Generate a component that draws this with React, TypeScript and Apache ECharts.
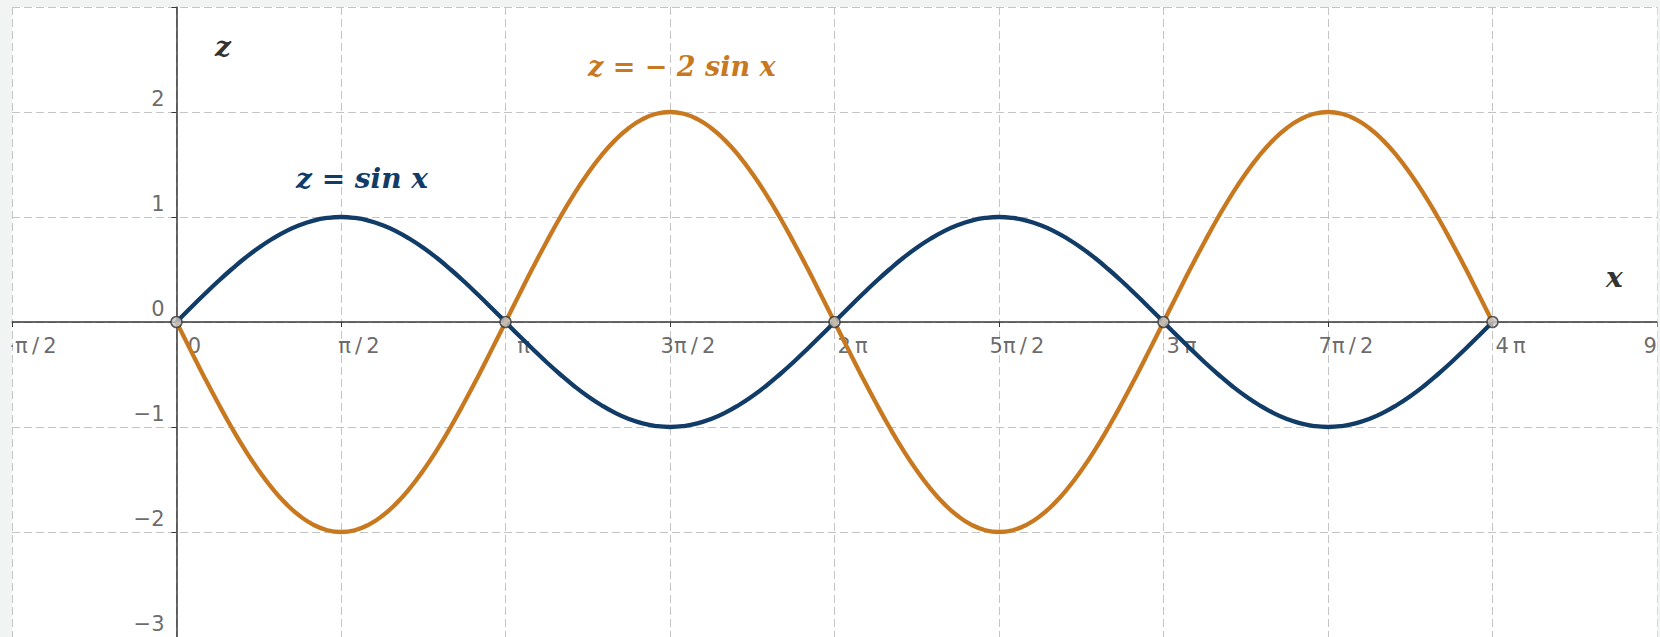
import React, { useEffect, useRef } from "react";
import * as echarts from "echarts";

// Curves sampled every π/24 from x = 0 to x = 4π
const SAMPLES_PER_PI = 24;

const sinValues = [
  0, 0.131, 0.259, 0.383, 0.5, 0.609, 0.707, 0.793, 0.866, 0.924, 0.966, 0.991,
  1, 0.991, 0.966, 0.924, 0.866, 0.793, 0.707, 0.609, 0.5, 0.383, 0.259, 0.131,
  0, -0.131, -0.259, -0.383, -0.5, -0.609, -0.707, -0.793, -0.866, -0.924, -0.966, -0.991,
  -1, -0.991, -0.966, -0.924, -0.866, -0.793, -0.707, -0.609, -0.5, -0.383, -0.259, -0.131,
  0, 0.131, 0.259, 0.383, 0.5, 0.609, 0.707, 0.793, 0.866, 0.924, 0.966, 0.991,
  1, 0.991, 0.966, 0.924, 0.866, 0.793, 0.707, 0.609, 0.5, 0.383, 0.259, 0.131,
  0, -0.131, -0.259, -0.383, -0.5, -0.609, -0.707, -0.793, -0.866, -0.924, -0.966, -0.991,
  -1, -0.991, -0.966, -0.924, -0.866, -0.793, -0.707, -0.609, -0.5, -0.383, -0.259, -0.131,
  0,
];

const negTwoSinValues = [
  0, -0.261, -0.518, -0.765, -1, -1.218, -1.414, -1.587, -1.732, -1.848, -1.932, -1.983,
  -2, -1.983, -1.932, -1.848, -1.732, -1.587, -1.414, -1.218, -1, -0.765, -0.518, -0.261,
  0, 0.261, 0.518, 0.765, 1, 1.218, 1.414, 1.587, 1.732, 1.848, 1.932, 1.983,
  2, 1.983, 1.932, 1.848, 1.732, 1.587, 1.414, 1.218, 1, 0.765, 0.518, 0.261,
  0, -0.261, -0.518, -0.765, -1, -1.218, -1.414, -1.587, -1.732, -1.848, -1.932, -1.983,
  -2, -1.983, -1.932, -1.848, -1.732, -1.587, -1.414, -1.218, -1, -0.765, -0.518, -0.261,
  0, 0.261, 0.518, 0.765, 1, 1.218, 1.414, 1.587, 1.732, 1.848, 1.932, 1.983,
  2, 1.983, 1.932, 1.848, 1.732, 1.587, 1.414, 1.218, 1, 0.765, 0.518, 0.261,
  0,
];

// Common zeros of both curves, in multiples of π
const intersectionsInPi = [0, 1, 2, 3, 4];

// x-axis tick labels, one per π/2 step from -π/2 to 9π/2
const xTickLabels = [
  "−π\u2009/\u20092", "0", "π\u2009/\u20092", "π", "3π\u2009/\u20092", "2\u2009π",
  "5π\u2009/\u20092", "3\u2009π", "7π\u2009/\u20092", "4\u2009π", "9π\u2009/\u20092",
];

// y-axis tick labels (the top value 3 sits outside the view)
const yTickValues = [-3, -2, -1, 0, 1, 2];
const yTickLabels = ["−3", "−2", "−1", "0", "1", "2"];

const X_MIN = -Math.PI / 2;
const X_MAX = (9 * Math.PI) / 2;
const Y_MIN = -3;
const Y_MAX = 3;

const BLUE = "#113c68";
const ORANGE = "#c8791f";
const PAGE_BG = "#f2f4f4";
const GRID_COLOR = "#c4c4c4";
const AXIS_COLOR = "#363636";
const LABEL_COLOR = "#444444";

const toPoints = (values: number[]) =>
  values.map((v, i) => [(i * Math.PI) / SAMPLES_PER_PI, v]);

export default function App() {
  const ref = useRef<HTMLDivElement>(null);

  useEffect(() => {
    if (!ref.current) return;
    const chart = echarts.init(ref.current, null, { renderer: "svg" });
    const serifFont = (size: number) =>
      `italic bold ${size}px "DejaVu Serif", "Liberation Serif", serif`;
    const tickFont = {
      color: LABEL_COLOR,
      fontSize: 21,
      fontFamily: '"DejaVu Sans", sans-serif',
    };
    const lastX = xTickLabels.length - 1;

    chart.setOption({
      animation: false,
      backgroundColor: PAGE_BG,
      grid: {
        left: 12,
        right: 3,
        top: 7,
        bottom: 0,
        outerBoundsMode: "none",
        containLabel: false,
        show: true,
        backgroundColor: "#ffffff",
        borderWidth: 0,
      },
      xAxis: {
        type: "value",
        min: X_MIN,
        max: X_MAX,
        interval: Math.PI / 2,
        axisLine: { onZero: true, lineStyle: { color: AXIS_COLOR, width: 1.5 } },
        axisTick: { show: true, length: 5, lineStyle: { color: AXIS_COLOR } },
        splitLine: {
          show: true,
          lineStyle: { color: GRID_COLOR, type: [8, 4], width: 1 },
        },
        axisLabel: { show: false },
      },
      yAxis: {
        type: "value",
        min: Y_MIN,
        max: Y_MAX,
        interval: 1,
        axisLine: { onZero: true, lineStyle: { color: AXIS_COLOR, width: 1.5 } },
        axisTick: { show: true, length: 5, lineStyle: { color: AXIS_COLOR } },
        splitLine: {
          show: true,
          lineStyle: { color: GRID_COLOR, type: [8, 4], width: 1 },
        },
        axisLabel: { show: false },
      },
      series: [
        // tick labels placed at the axis crossing, as in a graphing view
        {
          name: "x ticks",
          type: "scatter",
          symbolSize: 0,
          silent: true,
          z: 1,
          data: xTickLabels.map((t, i) => ({
            value: [((i - 1) * Math.PI) / 2, 0],
            label: {
              formatter: t,
              offset: i === 0 ? [15, 13] : i === lastX ? [14, 13] : [18, 13],
            },
          })),
          label: {
            show: true,
            position: "inside",
            align: "center",
            verticalAlign: "top",
            offset: [18, 13],
            ...tickFont,
          },
        },
        {
          name: "y ticks",
          type: "scatter",
          symbolSize: 0,
          silent: true,
          z: 1,
          data: yTickValues.map((v, i) => ({
            value: [0, v],
            label: { formatter: yTickLabels[i] },
          })),
          label: {
            show: true,
            position: "inside",
            align: "right",
            verticalAlign: "middle",
            offset: [-12, -13],
            ...tickFont,
          },
        },
        {
          name: "z = sin x",
          type: "line",
          data: toPoints(sinValues),
          smooth: true,
          showSymbol: false,
          lineStyle: { color: BLUE, width: 4.3 },
          z: 3,
        },
        {
          name: "z = − 2 sin x",
          type: "line",
          data: toPoints(negTwoSinValues),
          smooth: true,
          showSymbol: false,
          lineStyle: { color: ORANGE, width: 4.3 },
          z: 4,
        },
        {
          name: "zeros",
          type: "scatter",
          data: intersectionsInPi.map((k) => [k * Math.PI, 0]),
          symbol: "circle",
          symbolSize: 11,
          itemStyle: { color: "#c9c9c9", borderColor: AXIS_COLOR, borderWidth: 1.5 },
          z: 5,
        },
      ],
      graphic: [
        // page margins framing the plot view
        { type: "rect", shape: { x: 0, y: 0, width: 1660, height: 6.3 }, style: { fill: PAGE_BG }, z: 100 },
        { type: "rect", shape: { x: 0, y: 0, width: 11.4, height: 637 }, style: { fill: PAGE_BG }, z: 100 },
        { type: "rect", shape: { x: 1657.6, y: 0, width: 3, height: 637 }, style: { fill: PAGE_BG }, z: 100 },
        // axis names
        {
          type: "text", x: 215, y: 46, z: 50,
          style: { text: "z", font: serifFont(28), fill: "#333333", verticalAlign: "middle" },
        },
        {
          type: "text", x: 1606, y: 277, z: 50,
          style: { text: "x", font: serifFont(28), fill: "#333333", verticalAlign: "middle" },
        },
        // curve captions
        {
          type: "text", x: 296, y: 178, z: 50,
          style: { text: "z = sin x", font: serifFont(28), fill: BLUE, verticalAlign: "middle" },
        },
        {
          type: "text", x: 588, y: 66, z: 50,
          style: { text: "z = − 2 sin x", font: serifFont(27), fill: ORANGE, verticalAlign: "middle" },
        },
      ],
    });

    return () => chart.dispose();
  }, []);

  return (
    <div
      ref={ref}
      style={{ position: "absolute", left: 0, top: 0, width: 1660, height: 637 }}
    />
  );
}
